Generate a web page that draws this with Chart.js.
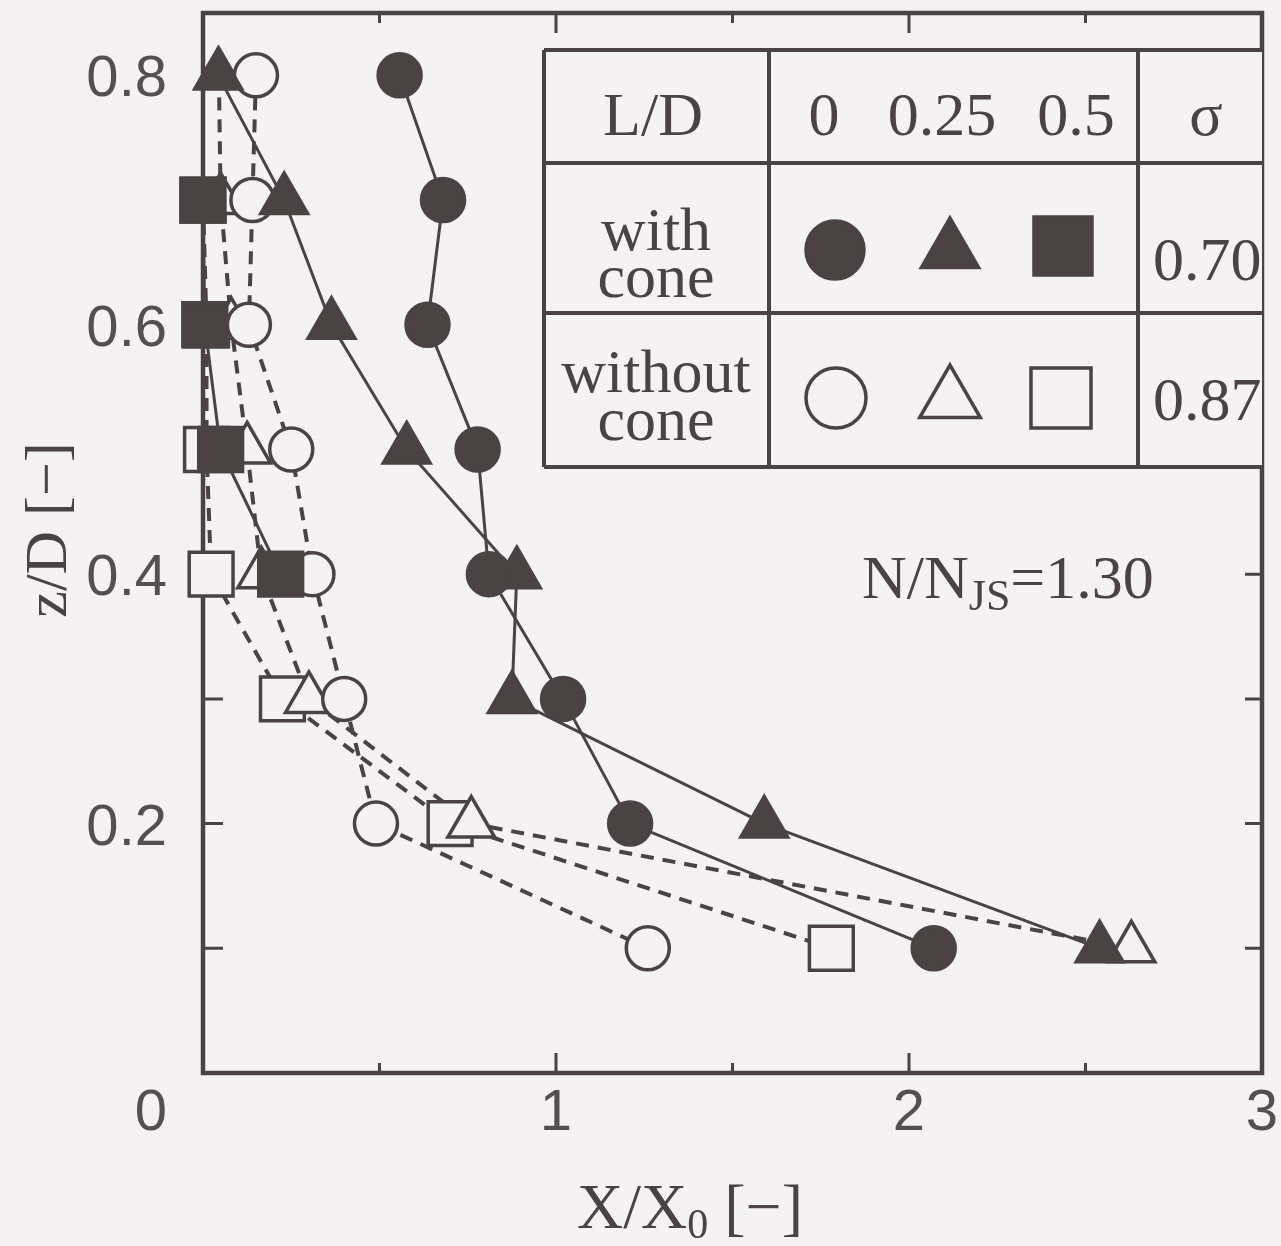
<!DOCTYPE html>
<html>
<head>
<meta charset="utf-8">
<script src="https://cdn.jsdelivr.net/npm/chart.js@4/dist/chart.umd.min.js"></script>
<style>
  html, body { margin: 0; padding: 0; background: #f4f2f2; overflow: hidden; }
  #wrap { width: 1281px; height: 1246px; position: relative; }
  canvas { display: block; }
</style>
</head>
<body>
<div id="wrap"><canvas id="chart"></canvas></div>
<script>
// z/D levels, top to bottom
const zLevels = [0.8, 0.7, 0.6, 0.5, 0.4, 0.3, 0.2, 0.1];

// X/X0 (null = no point at that level)
const withConeLD0 = [0.557, 0.68, 0.636, 0.778, 0.81, 1.02, 1.21, 2.07];
const withConeLD025 = [0.043, 0.23, 0.364, 0.577, 0.889, 0.875, 1.59, 2.54];
const withConeLD05 = [null, 0.0, 0.005, 0.05, 0.22, null, null, null];
const noConeLD0 = [0.15, 0.14, 0.13, 0.25, 0.31, 0.40, 0.49, 1.26];
const noConeLD025 = [0.045, 0.05, 0.08, 0.125, 0.165, 0.30, 0.76, 2.63];
const noConeLD05 = [null, 0.0, 0.01, 0.01, 0.023, 0.225, 0.70, 1.78];

const xTickLabels = [0, 1, 2, 3];
const yTickLabels = [0.2, 0.4, 0.6, 0.8];
const ldLabels = ['0', '0.25', '0.5'];
const sigmaLabels = ['0.70', '0.87'];

const INK = '#4b4343';
const PAPER = '#f4f2f2';
const SERIF = '"Liberation Serif", "DejaVu Serif", serif';
const SANS = '"Liberation Sans", Arial, sans-serif';

function toPoints(xs) {
  return zLevels.map((z, i) => ({ x: xs[i], y: z })).filter((p) => p.x !== null);
}

// drawn bottom to top: higher order first
const series = [
  { xs: noConeLD05, style: 'rect', radius: 31, filled: false, order: 6 },
  { xs: noConeLD025, style: 'triangle', radius: 27, filled: false, order: 5 },
  { xs: noConeLD0, style: 'circle', radius: 21.5, filled: false, order: 4 },
  { xs: withConeLD05, style: 'rect', radius: 31, filled: true, order: 3 },
  { xs: withConeLD025, style: 'triangle', radius: 27, filled: true, order: 2 },
  { xs: withConeLD0, style: 'circle', radius: 21.5, filled: true, order: 1 }
];

const datasets = [];
series.forEach((s) => {
  const pts = toPoints(s.xs);
  datasets.push({
    data: pts,
    showLine: true,
    borderColor: INK,
    borderWidth: s.filled ? 3 : 4,
    borderDash: s.filled ? [] : [13, 9],
    pointRadius: 0,
    tension: 0,
    clip: false,
    order: 20
  });
  datasets.push({
    data: pts,
    showLine: false,
    pointStyle: s.style,
    pointRadius: s.radius,
    pointBorderWidth: 3.5,
    pointBorderColor: INK,
    pointBackgroundColor: s.filled ? INK : PAPER,
    clip: false,
    order: s.order
  });
});

function drawSymbol(ctx, style, cx, cy, r, filled) {
  ctx.save();
  ctx.beginPath();
  if (style === 'circle') {
    ctx.arc(cx, cy, r, 0, Math.PI * 2);
  } else if (style === 'triangle') {
    ctx.moveTo(cx, cy - r);
    ctx.lineTo(cx + r * Math.sin(2 * Math.PI / 3), cy + r / 2);
    ctx.lineTo(cx - r * Math.sin(2 * Math.PI / 3), cy + r / 2);
    ctx.closePath();
  } else {
    ctx.rect(cx - r, cy - r, 2 * r, 2 * r);
  }
  ctx.fillStyle = filled ? INK : PAPER;
  ctx.fill();
  ctx.lineWidth = 3.5;
  ctx.strokeStyle = INK;
  ctx.stroke();
  ctx.restore();
}

const framePlugin = {
  id: 'frame',
  beforeDraw(chart) {
    const ctx = chart.ctx;
    ctx.save();
    ctx.fillStyle = PAPER;
    ctx.fillRect(0, 0, chart.width, chart.height);
    ctx.restore();
  },
  beforeDatasetsDraw(chart) {
    const ctx = chart.ctx;
    const ca = chart.chartArea;
    const xs = chart.scales.x;
    const ys = chart.scales.y;
    ctx.save();
    ctx.strokeStyle = INK;
    ctx.fillStyle = INK;

    // frame
    ctx.lineWidth = 4.5;
    ctx.strokeRect(ca.left, ca.top, ca.right - ca.left, ca.bottom - ca.top);

    // inward ticks
    ctx.lineWidth = 3;
    for (let v = 0.5; v < 3; v += 0.5) {
      const px = xs.getPixelForValue(v);
      const len = Number.isInteger(v) ? 20 : 10;
      ctx.beginPath();
      ctx.moveTo(px, ca.bottom); ctx.lineTo(px, ca.bottom - len);
      ctx.moveTo(px, ca.top); ctx.lineTo(px, ca.top + len);
      ctx.stroke();
    }
    for (let k = 1; k <= 8; k++) {
      const py = ys.getPixelForValue(k / 10);
      ctx.beginPath();
      ctx.moveTo(ca.left, py); ctx.lineTo(ca.left + 20, py);
      ctx.moveTo(ca.right, py); ctx.lineTo(ca.right - 17, py);
      ctx.stroke();
    }

    // tick labels
    ctx.fillStyle = '#555050';
    ctx.font = '58px ' + SANS;
    ctx.textBaseline = 'alphabetic';
    ctx.textAlign = 'center';
    xTickLabels.forEach((v) => {
      let px = xs.getPixelForValue(v);
      if (v === 0) px -= 52;
      ctx.fillText(String(v), px, ca.bottom + 57);
    });
    ctx.textAlign = 'right';
    yTickLabels.forEach((v) => {
      ctx.fillText(v.toFixed(1), ca.left - 36, ys.getPixelForValue(v) + 21);
    });

    // axis titles
    ctx.fillStyle = INK;
    ctx.textAlign = 'left';
    const big = '64px ' + SERIF;
    const small = '42px ' + SERIF;
    ctx.font = big;
    const a = 'X/X', c = ' [\u2212]';
    const wa = ctx.measureText(a).width;
    const wc = ctx.measureText(c).width;
    ctx.font = small;
    const wb = ctx.measureText('0').width;
    let sx = 690 - (wa + wb + wc) / 2;
    ctx.font = big;
    ctx.fillText(a, sx, 1228);
    ctx.font = small;
    ctx.fillText('0', sx + wa, 1238);
    ctx.font = big;
    ctx.fillText(c, sx + wa + wb, 1228);

    ctx.save();
    ctx.translate(66, 530);
    ctx.rotate(-Math.PI / 2);
    ctx.textAlign = 'center';
    ctx.font = '60px ' + SERIF;
    ctx.fillText('z/D [\u2212]', 0, 0);
    ctx.restore();

    // N/NJS annotation
    ctx.textAlign = 'left';
    ctx.font = '62px ' + SERIF;
    let nx = 862;
    ctx.fillText('N/N', nx, 598);
    nx += ctx.measureText('N/N').width;
    ctx.font = '44px ' + SERIF;
    ctx.fillText('JS', nx, 610);
    nx += ctx.measureText('JS').width;
    ctx.font = '62px ' + SERIF;
    ctx.fillText('=1.30', nx, 598);

    // legend table
    const tl = 544, c1 = 769, c2 = 1138, tr = ca.right;
    const rows = [50, 163, 313, 467];
    ctx.fillStyle = PAPER;
    ctx.fillRect(tl, rows[0], tr - tl, rows[3] - rows[0]);
    ctx.lineWidth = 4;
    ctx.strokeStyle = INK;
    ctx.beginPath();
    rows.forEach((ry) => { ctx.moveTo(tl, ry); ctx.lineTo(tr, ry); });
    [tl, c1, c2].forEach((cx) => { ctx.moveTo(cx, rows[0]); ctx.lineTo(cx, rows[3]); });
    ctx.stroke();

    ctx.fillStyle = INK;
    ctx.font = '62px ' + SERIF;
    ctx.textAlign = 'center';
    ctx.fillText('L/D', 653, 135);
    [824, 942, 1076].forEach((cx, i) => ctx.fillText(ldLabels[i], cx, 135));
    ctx.fillText('\u03c3', 1206, 135);
    ctx.fillText('with', 656, 250);
    ctx.fillText('cone', 656, 297);
    ctx.fillText('without', 656, 392);
    ctx.fillText('cone', 656, 440);
    ctx.textAlign = 'left';
    ctx.fillText(sigmaLabels[0], 1153, 280);
    ctx.fillText(sigmaLabels[1], 1153, 420);

    drawSymbol(ctx, 'circle', 835, 250, 29, true);
    drawSymbol(ctx, 'triangle', 950, 251, 33, true);
    drawSymbol(ctx, 'rect', 1063, 246, 29, true);
    drawSymbol(ctx, 'circle', 836, 398, 30, false);
    drawSymbol(ctx, 'triangle', 950, 400, 35, false);
    drawSymbol(ctx, 'rect', 1061, 398, 30, false);

    ctx.restore();
  }
};

new Chart(document.getElementById('chart'), {
  type: 'scatter',
  data: { datasets },
  options: {
    responsive: true,
    maintainAspectRatio: false,
    animation: false,
    devicePixelRatio: 1,
    events: [],
    layout: { autoPadding: false, padding: { left: 203, right: 19, top: 13, bottom: 173 } },
    plugins: { legend: { display: false }, tooltip: { enabled: false } },
    scales: {
      x: { type: 'linear', min: 0, max: 3, display: false },
      y: { type: 'linear', min: 0, max: 0.85, display: false }
    }
  },
  plugins: [framePlugin]
});
</script>
</body>
</html>
